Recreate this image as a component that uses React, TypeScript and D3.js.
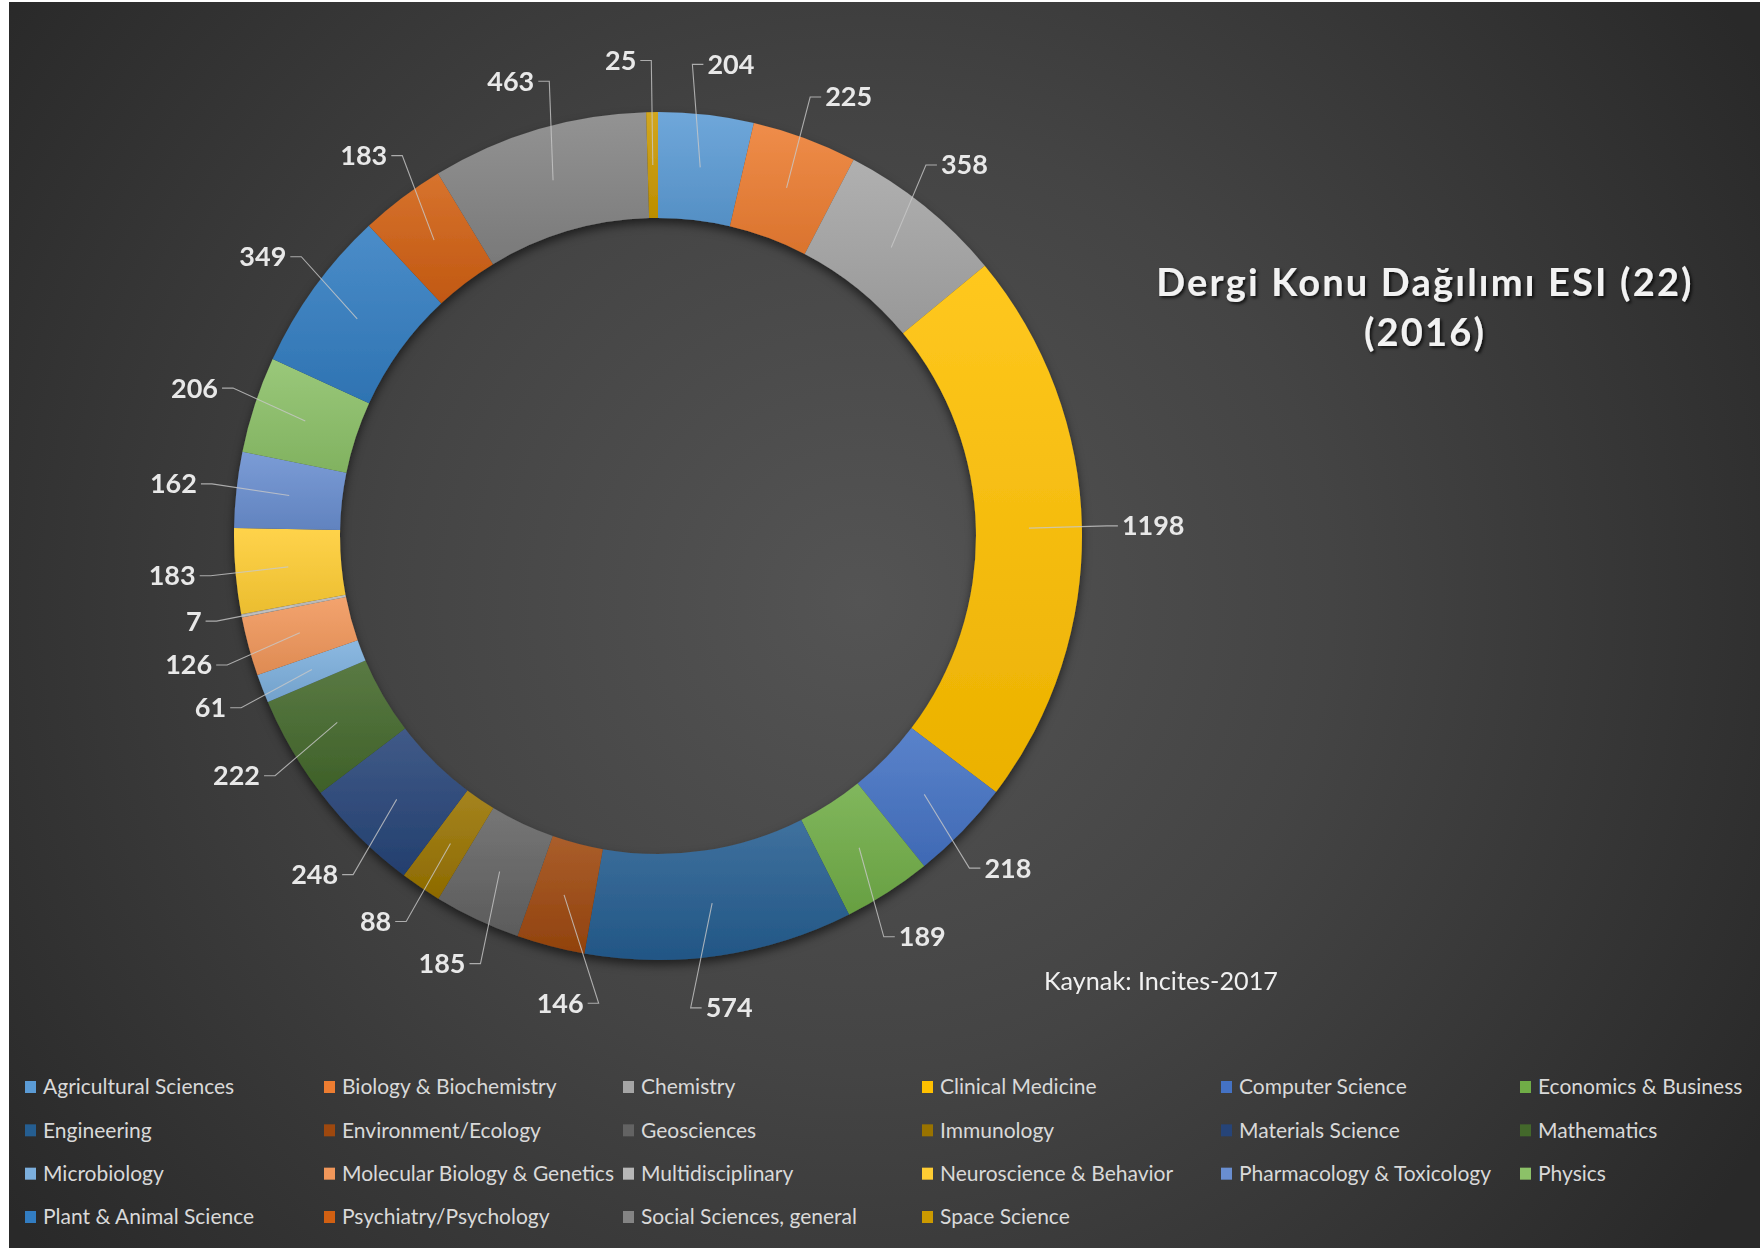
import React, { useMemo } from 'react';
import * as d3 from 'd3';

const categories = [
  'Agricultural Sciences', 'Biology & Biochemistry', 'Chemistry', 'Clinical Medicine', 'Computer Science', 'Economics & Business',
  'Engineering', 'Environment/Ecology', 'Geosciences', 'Immunology', 'Materials Science', 'Mathematics',
  'Microbiology', 'Molecular Biology & Genetics', 'Multidisciplinary', 'Neuroscience & Behavior', 'Pharmacology & Toxicology', 'Physics',
  'Plant & Animal Science', 'Psychiatry/Psychology', 'Social Sciences, general', 'Space Science',
];
const values = [204, 225, 358, 1198, 218, 189, 574, 146, 185, 88, 248, 222, 61, 126, 7, 183, 162, 206, 349, 183, 463, 25];
const colors = [
  '#5B9BD5', '#ED7D31', '#A5A5A5', '#FFC000', '#4472C4', '#70AD47',
  '#255E91', '#9E480E', '#636363', '#997300', '#264478', '#43682B',
  '#7CAFDD', '#F1975A', '#B7B7B7', '#FFCD33', '#698ED0', '#8CC168',
  '#327DC2', '#D26012', '#848484', '#CC9A00',
];
const titleLines = ['Dergi Konu Dağılımı ESI (22)', '(2016)'];
const sourceNote = 'Kaynak: Incites-2017';

const W = 1762;
const H = 1248;
const CX = 658;
const CY = 536;
const R_OUT = 424;
const R_IN = 318;
const LABEL_GAP = 40;
const LABEL_FONT = 27;
const LEG_COLS = 6;

function measure(text: string, font: string, fallback: number) {
  try {
    const c = document.createElement('canvas').getContext('2d');
    if (c) { c.font = font; return c.measureText(text).width; }
  } catch (e) {}
  return fallback;
}

export default function App() {
  const layout = useMemo(() => {
    const pie = d3.pie<number>().sort(null).value((d) => d).startAngle(0).endAngle(2 * Math.PI);
    const arcs = pie(values);
    const arcGen = d3.arc<d3.PieArcDatum<number>>().innerRadius(R_IN).outerRadius(R_OUT);
    const midGen = d3.arc<d3.PieArcDatum<number>>().innerRadius((R_IN + R_OUT) / 2).outerRadius((R_IN + R_OUT) / 2);

    const labels = arcs.map((a, i) => {
      const txt = String(values[i]);
      const w = measure(txt, `bold ${LABEL_FONT}px Lato`, txt.length * 15);
      return { i, txt, w, h: 26, ang: (a.startAngle + a.endAngle) / 2, x: 0, y: 0 };
    });
    const place = (l: any) => {
      const ux = Math.sin(l.ang);
      const uy = -Math.cos(l.ang);
      l.x = CX + (R_OUT + LABEL_GAP) * ux + ux * l.w / 2;
      l.y = CY + (R_OUT + LABEL_GAP) * uy + uy * l.h / 2;
    };
    labels.forEach(place);
    const padX = 70, padY = 16;
    for (let it = 0; it < 600; it++) {
      let moved = false;
      for (let a = 0; a < labels.length; a++) {
        for (let b = a + 1; b < labels.length; b++) {
          const A = labels[a], B = labels[b];
          const ox = (A.w + B.w) / 2 + padX - Math.abs(A.x - B.x);
          const oy = (A.h + B.h) / 2 + padY - Math.abs(A.y - B.y);
          if (ox > 0 && oy > 0) {
            let diff = B.ang - A.ang;
            while (diff > Math.PI) diff -= 2 * Math.PI;
            while (diff < -Math.PI) diff += 2 * Math.PI;
            const s = diff >= 0 ? 1 : -1;
            A.ang -= s * 0.002;
            B.ang += s * 0.002;
            place(A); place(B);
            moved = true;
          }
        }
      }
      if (!moved) break;
    }

    const slices = arcs.map((a, i) => {
      const [mx, my] = midGen.centroid(a);
      const l = labels[i];
      const right = l.x >= CX;
      const ax = right ? l.x - l.w / 2 - 4 : l.x + l.w / 2 + 4;
      const tick = right ? ax - 11 : ax + 11;
      const leader = d3.path();
      leader.moveTo(CX + mx, CY + my);
      leader.lineTo(tick, l.y);
      leader.lineTo(ax, l.y);
      return { d: arcGen(a) as string, color: colors[i], label: l, leader: leader.toString() };
    });
    return slices;
  }, []);

  const legX = d3.scaleLinear().domain([0, LEG_COLS]).range([25, 25 + 299 * LEG_COLS]);
  const legY = d3.scaleLinear().domain([0, 3]).range([1087, 1217]);

  const tint = (c: string, t: number) => d3.interpolateRgb(c, t > 0 ? '#ffffff' : '#000000')(Math.abs(t));

  return (
    <svg width={W} height={H} style={{ position: 'absolute', left: 0, top: 0, background: '#ffffff' }}
      fontFamily="Lato, 'Open Sans', sans-serif">
      <defs>
        <radialGradient id="bg" gradientUnits="userSpaceOnUse" cx={860} cy={600} r={1050}>
          <stop offset="0" stopColor="#545454" />
          <stop offset="0.45" stopColor="#444444" />
          <stop offset="1" stopColor="#292929" />
        </radialGradient>
        {colors.map((c, i) => (
          <linearGradient key={i} id={`g${i}`} x1="0" y1="0" x2="0" y2="1">
            <stop offset="0" stopColor={tint(c, 0.12)} />
            <stop offset="1" stopColor={tint(c, -0.08)} />
          </linearGradient>
        ))}
        <filter id="shadow" x="-20%" y="-20%" width="140%" height="140%">
          <feDropShadow dx="0" dy="5" stdDeviation="5" floodColor="#000" floodOpacity="0.55" />
        </filter>
        <filter id="tshadow" x="-10%" y="-30%" width="120%" height="160%">
          <feDropShadow dx="2" dy="2" stdDeviation="1.5" floodColor="#000" floodOpacity="0.7" />
        </filter>
      </defs>
      <rect x={9} y={2} width={1751} height={1246} fill="url(#bg)" />

      <g filter="url(#shadow)">
        {layout.map((s, i) => (
          <path key={i} d={s.d} transform={`translate(${CX},${CY})`} fill={`url(#g${i})`} />
        ))}
      </g>

      <g fill="none" stroke="#c8c8c8" strokeWidth={1.1} opacity={0.8}>
        {layout.map((s, i) => <path key={i} d={s.leader} />)}
      </g>
      <g fill="#e8e8e8" fontWeight="bold" fontSize={LABEL_FONT} textAnchor="middle">
        {layout.map((s, i) => (
          <text key={i} x={s.label.x} y={s.label.y} dy="0.35em">{s.label.txt}</text>
        ))}
      </g>

      <g fill="#f2f2f2" fontWeight="bold" fontSize={38} textAnchor="middle" letterSpacing={2.2} filter="url(#tshadow)">
        {titleLines.map((t, i) => (
          <text key={i} x={1425} y={283 + i * 50} dy="0.35em">{t}</text>
        ))}
      </g>

      <text x={1044} y={981} dy="0.35em" fill="#f0f0f0" fontSize={25.2}>{sourceNote}</text>

      <g fontSize={21} fill="#d9d9d9">
        {categories.map((c, i) => {
          const col = i % LEG_COLS;
          const row = Math.floor(i / LEG_COLS);
          return (
            <g key={c} transform={`translate(${legX(col)},${legY(row)})`}>
              <rect x={0} y={-6} width={11} height={12} fill={colors[i]} />
              <text x={18} y={0} dy="0.35em">{c}</text>
            </g>
          );
        })}
      </g>
    </svg>
  );
}
